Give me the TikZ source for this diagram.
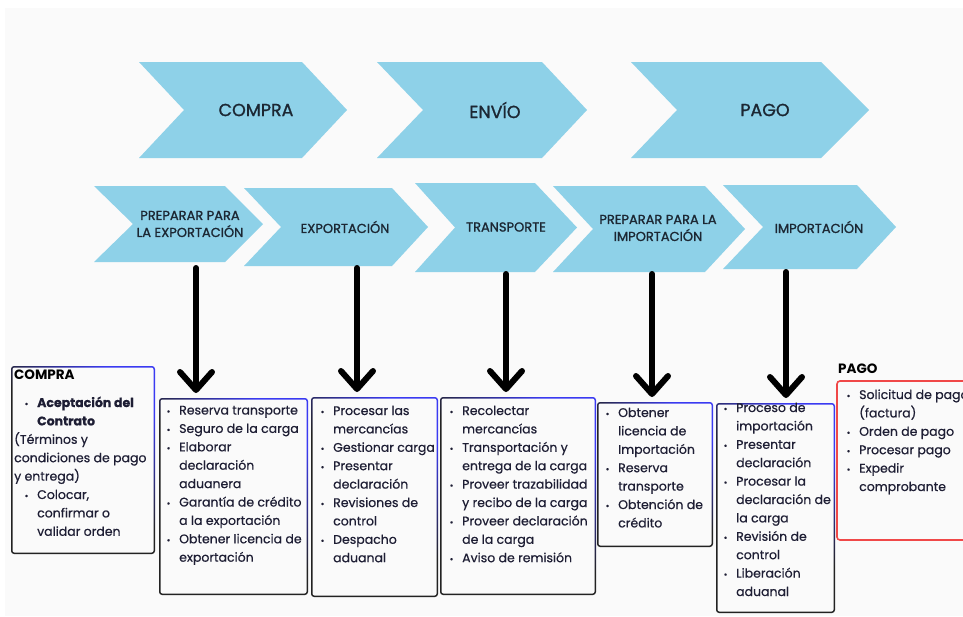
\documentclass[tikz,border=0pt]{standalone}
\usepackage{fontspec}
\setmainfont{Poppins}
\newfontfamily\medfont{Poppins}[FakeBold=0.6]
\newfontfamily\labfont{Poppins}[FakeBold=1.2]
\usetikzlibrary{arrows.meta}

\definecolor{chevfill}{HTML}{8ED1E8}
\definecolor{pagebg}{HTML}{FAFAFA}
\definecolor{ink}{HTML}{1E1E34}
\definecolor{labelink}{HTML}{1C2733}
\definecolor{frameblue}{HTML}{3A3AF2}
\definecolor{frameblack}{HTML}{222222}
\definecolor{framered}{HTML}{F04848}

\newlength\bulw
\setlength\bulw{12.5pt}
% bullet and continuation indent for the list lines
\newcommand\bu{\makebox[\bulw][l]{{\fontsize{9}{9}\selectfont•}}}
\newcommand\ct{\hspace*{\bulw}}
\newcommand\outd{\hspace*{-10.5pt}}

% chevron: left x, top y, bottom y, notch x, right x, tip x
\newcommand\chev[6]{%
  \fill[chev] (#1,#2) -- (#5,#2) -- (#6,{(#2+#3)/2}) -- (#5,#3) -- (#1,#3)
    -- (#4,{(#2+#3)/2}) -- cycle;}

% empty frame node spanning (x1,y1)-(x2,y2)
\newcommand\boxnode[5]{%
  \node[framenode, minimum width={(#4-#2)*1pt}, minimum height={(#5-#3)*1pt}]
    (#1) at ({(#2+#4)/2},{(#3+#5)/2}) {};}

% frame whose border turns from black to blue towards the upper right
\newcommand\gradframe[1]{%
  \shade[rounded corners=3pt, top color=frameblue, bottom color=frameblack,
         middle color=frameblack, shading angle=-45]
    (#1.south west) rectangle (#1.north east);
  \fill[pagebg, rounded corners=2pt] ([shift={(1.5pt,1.5pt)}]#1.south west)
    rectangle ([shift={(-1.5pt,-1.5pt)}]#1.north east);}

\tikzset{
  chev/.style={fill=chevfill},
  toplabel/.style={font=\labfont\fontsize{17.5}{18}\selectfont, text=labelink, inner sep=0pt},
  steplabel/.style={font=\labfont\fontsize{13}{17}\selectfont, text=labelink, align=center, inner sep=0pt},
  framenode/.style={inner sep=0pt, outer sep=0pt},
  listtext/.style={anchor=base west, inner sep=0pt, text=ink, font=\medfont\fontsize{12.5}{18.4}\selectfont},
  heading/.style={anchor=base west, inner sep=0pt, text=black, font=\bfseries\fontsize{13.5}{13.5}\selectfont},
  bigarrow/.style={line width=6pt, line cap=round,
    -{Straight Barb[length=18pt,width=32pt,round]}, shorten >=5pt},
}

\begin{document}
\begin{tikzpicture}[x=1pt,y=-1pt]
\useasboundingbox (0,0) rectangle (963,616);
\clip (0,0) rectangle (963,616);
\fill[white] (0,0) rectangle (963,616);
\fill[pagebg] (5,8) rectangle (963,616);

% phase row
\chev{139}{62}{158}{184}{302}{347}
\chev{377}{62}{158}{423}{542}{587}
\chev{631}{62}{158}{677}{821}{869}
\node[toplabel] (l1) at (256,110) {COMPRA};
\node[toplabel] (l2) at (495,110) {ENVÍO};
\node[toplabel] (l3) at (765,110) {PAGO};

% step row
\chev{94}{186}{262}{133}{225}{263}
\chev{244}{188}{266}{281}{392}{428}
\chev{415}{183}{272}{455}{535}{577}
\chev{553}{186}{272}{593}{705}{745}
\chev{723}{185}{269}{763}{857}{896}
\node[steplabel] (s1) at (190,224) {PREPARAR PARA\\LA EXPORTACIÓN};
\node[steplabel] (s2) at (345,227) {EXPORTACIÓN};
\node[steplabel] (s3) at (506,227) {TRANSPORTE};
\node[steplabel] (s4) at (658,228) {PREPARAR PARA LA\\IMPORTACIÓN};
\node[steplabel] (s5) at (819,227) {IMPORTACIÓN};

% list frames
\boxnode{b1}{11}{366}{155}{554}
\boxnode{b2}{159}{398}{308}{595}
\boxnode{b3}{311}{397}{438}{597}
\boxnode{b4}{440}{397}{596}{595}
\boxnode{b5}{597}{402}{713}{547}
\boxnode{b6}{716}{403}{835}{613}
\boxnode{b7}{837}{381}{978}{540}
\gradframe{b1}
\gradframe{b2}
\gradframe{b3}
\gradframe{b4}
\gradframe{b5}
\gradframe{b6}
\draw[framered, line width=1.6pt, rounded corners=3pt]
  (b7.south west) rectangle (b7.north east);

% arrows from the steps down to their lists
\coordinate (a1) at (196,268);
\coordinate (a2) at (357,268);
\coordinate (a3) at (506,274);
\coordinate (a4) at (652,274);
\coordinate (a5) at (786,272);
\draw[bigarrow] (a1) -- (a1 |- b2.north);
\draw[bigarrow] (a2) -- (a2 |- b3.north);
\draw[bigarrow] (a3) -- (a3 |- b4.north);
\draw[bigarrow] (a4) -- (a4 |- b5.north);
\draw[bigarrow] (a5) -- (a5 |- b6.north);

% list contents
\node[heading] (h1) at (14,379) {COMPRA};
\node[listtext] (t1) at (24.5,407) {\begin{tabular}[t]{@{}l@{}}
\bu\textbf{Aceptación del}\\
\ct\textbf{Contrato}\\
\outd(Términos y\\
\outd condiciones de pago\\
\outd y entrega)\\
\bu Colocar,\\
\ct confirmar o\\
\ct validar orden
\end{tabular}};

\node[listtext] (t2) at (166.5,414.5) {\begin{tabular}[t]{@{}l@{}}
\bu Reserva transporte\\
\bu Seguro de la carga\\
\bu Elaborar\\
\ct declaración\\
\ct aduanera\\
\bu Garantía de crédito\\
\ct a la exportación\\
\bu Obtener licencia de\\
\ct exportación
\end{tabular}};

\node[listtext] (t3) at (320.5,415) {\begin{tabular}[t]{@{}l@{}}
\bu Procesar las\\
\ct mercancías\\
\bu Gestionar carga\\
\bu Presentar\\
\ct declaración\\
\bu Revisiones de\\
\ct control\\
\bu Despacho\\
\ct aduanal
\end{tabular}};

\node[listtext] (t4) at (449.5,415) {\begin{tabular}[t]{@{}l@{}}
\bu Recolectar\\
\ct mercancías\\
\bu Transportación y\\
\ct entrega de la carga\\
\bu Proveer trazabilidad\\
\ct y recibo de la carga\\
\bu Proveer declaración\\
\ct de la carga\\
\bu Aviso de remisión
\end{tabular}};

\node[listtext] (t5) at (605.5,417) {\begin{tabular}[t]{@{}l@{}}
\bu Obtener\\
\ct licencia de\\
\ct Importación\\
\bu Reserva\\
\ct transporte\\
\bu Obtención de\\
\ct crédito
\end{tabular}};

\node[listtext] (t6) at (723.5,412) {\begin{tabular}[t]{@{}l@{}}
\bu Proceso de\\
\ct importación\\
\bu Presentar\\
\ct declaración\\
\bu Procesar la\\
\ct declaración de\\
\ct la carga\\
\bu Revisión de\\
\ct control\\
\bu Liberación\\
\ct aduanal
\end{tabular}};

\node[heading] (h7) at (838,373) {PAGO};
\node[listtext] (t7) at (846.5,399) {\begin{tabular}[t]{@{}l@{}}
\bu Solicitud de pago\\
\ct (factura)\\
\bu Orden de pago\\
\bu Procesar pago\\
\bu Expedir\\
\ct comprobante
\end{tabular}};
\end{tikzpicture}
\end{document}
